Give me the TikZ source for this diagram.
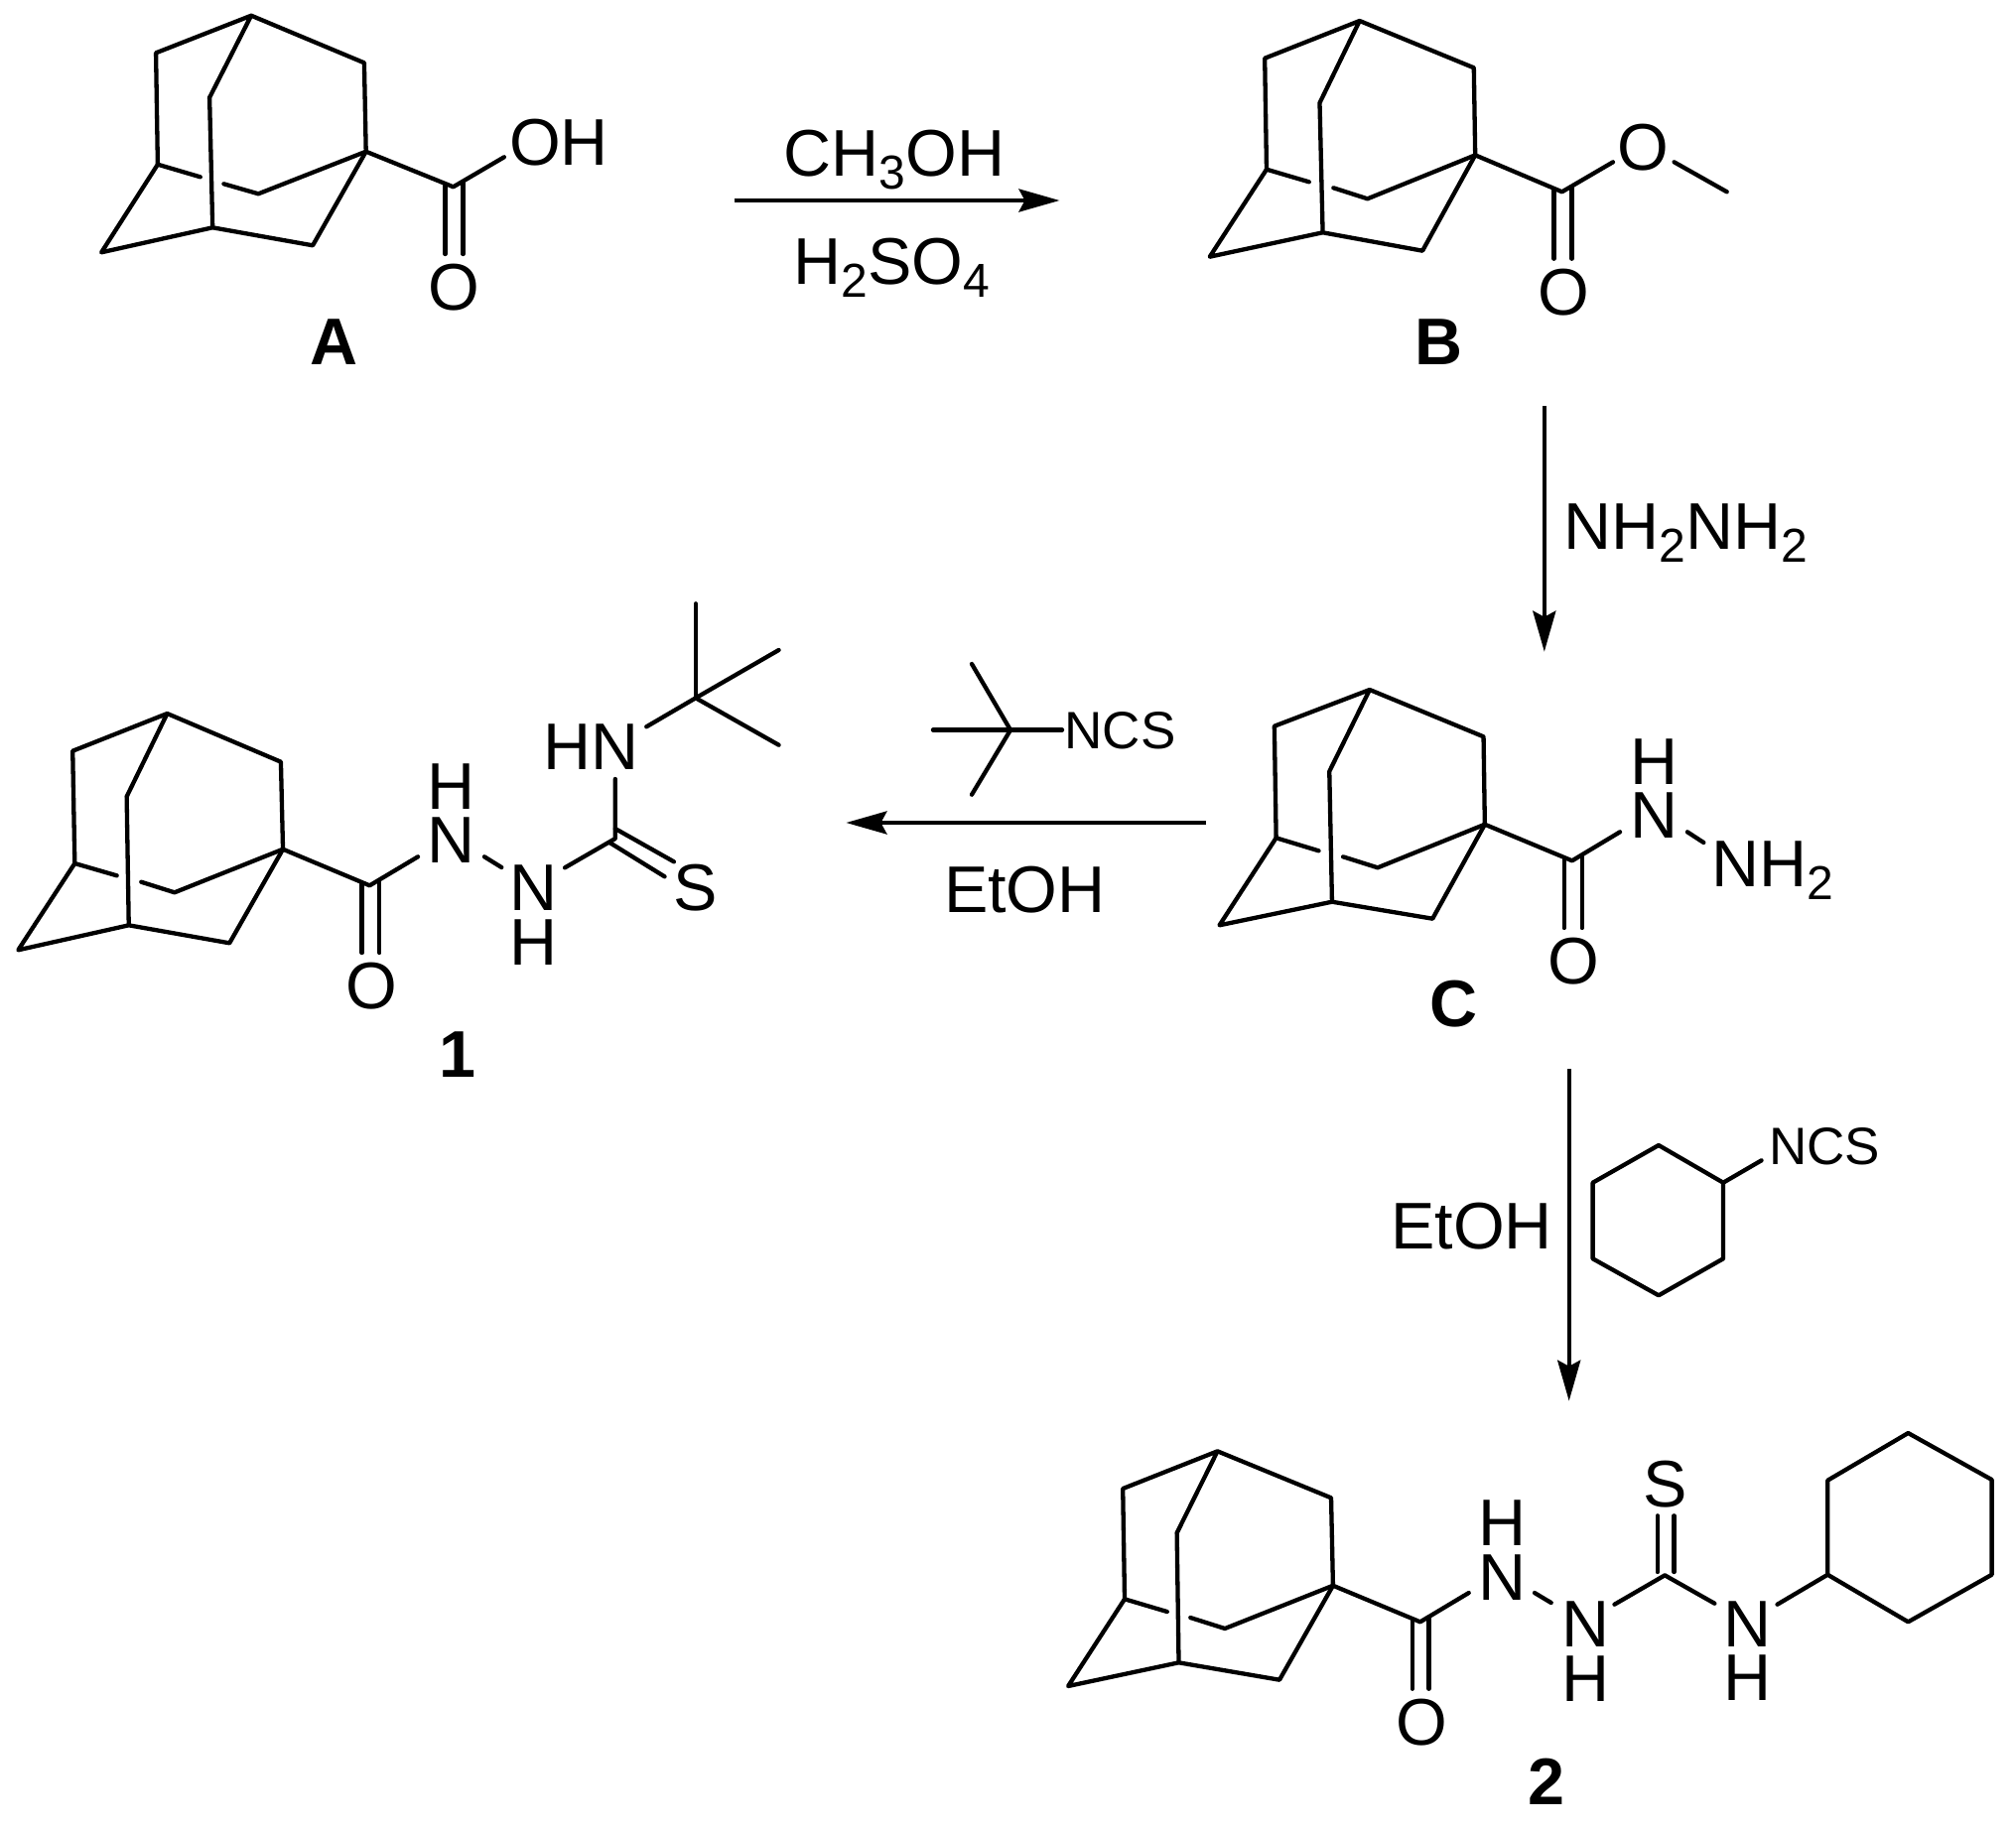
\documentclass[tikz,border=0pt]{standalone}
\usepackage{fontspec}
\setmainfont{Liberation Sans}
\usetikzlibrary{arrows.meta}
\newcommand{\subsc}[1]{\raisebox{-13pt}{\fontsize{48}{50}\selectfont #1}}
\newcommand{\adamantane}[1]{%
  \draw[bond] (#1T)--(#1UL)--(#1L)--(#1BL)--(#1Bc)--(#1BR)--(#1Q)--(#1UR)--(#1T)--(#1I)--(#1Bc);
  \draw[bond] (#1L)--(#1ga);
  \draw[bond] (#1gb)--(#1M)--(#1Q);
}
\tikzset{
  bond/.style={line width=4.3pt,line cap=round,line join=round,black},
  rxn/.style={line width=4.3pt,black,-{Stealth[length=41pt,width=23pt,inset=6pt]}},
  atom/.style={inner sep=0pt,outer sep=0pt,text height=47.5pt,text depth=0pt,font=\fontsize{66.5}{70}\selectfont},
  smallatom/.style={inner sep=0pt,outer sep=0pt,text height=38pt,text depth=0pt,font=\fontsize{53}{58}\selectfont},
  cmpd/.style={inner sep=0pt,outer sep=0pt,text height=47.5pt,text depth=0pt,font=\fontsize{66.5}{70}\selectfont\bfseries},
  squeeze/.style={shift={(#1,0)},xscale=.9949,shift={(-#1,0)}}
}
\begin{document}
\begin{tikzpicture}[x=1pt,y=-1pt]
\useasboundingbox (0,0) rectangle (2031,1842);
\fill[white] (0,0) rectangle (2031,1842);

%% Compound A
\begin{scope}[squeeze=0]
\path (254.4,15.7) coordinate (aT) (157.9,53.3) coordinate (aUL) (368.8,63.3) coordinate (aUR)
  (212.2,98.3) coordinate (aI) (159.7,165.7) coordinate (aL) (370.6,152.7) coordinate (aQ)
  (202.8,178.3) coordinate (aga) (226.6,185.3) coordinate (agb) (261.6,195.3) coordinate (aM)
  (215.3,229.3) coordinate (aBc) (316.7,247.3) coordinate (aBR) (102.7,254.3) coordinate (aBL)
  (459,188.3) coordinate (aCO) (510.5,158.3) coordinate (aOe)
  (450.9,186) coordinate (ada) (450.9,256) coordinate (adb)
  (468.8,184) coordinate (adc) (468.8,256) coordinate (add);
\adamantane{a}
\draw[bond] (aQ)--(aCO)--(aOe);
\draw[bond] (ada)--(adb);
\draw[bond] (adc)--(add);
\node[atom] (aOH) at (566,142.5) {OH};
\node[atom] (aO) at (460,289) {O};
\node[cmpd] (lA) at (338,343.5) {A};
\end{scope}

%% Compound B
\begin{scope}[squeeze=1180]
\path (1370.7,21) coordinate (bT) (1274.7,58.7) coordinate (bUL) (1486.4,68.3) coordinate (bUR)
  (1330.3,103.7) coordinate (bI) (1276.5,170.7) coordinate (bL) (1487.8,156.3) coordinate (bQ)
  (1319.5,183.3) coordinate (bga) (1344.2,189.3) coordinate (bgb) (1378.7,200.3) coordinate (bM)
  (1333.4,234.3) coordinate (bBc) (1434.4,252.7) coordinate (bBR) (1219,258.7) coordinate (bBL)
  (1575.7,193.3) coordinate (bCO) (1627.3,163.3) coordinate (bOe)
  (1689.2,163.3) coordinate (bOs) (1742.6,193.3) coordinate (bMe)
  (1567.6,191) coordinate (bda) (1567.6,260.7) coordinate (bdb)
  (1585.6,189) coordinate (bdc) (1585.6,260.7) coordinate (bdd);
\adamantane{b}
\draw[bond] (bQ)--(bCO)--(bOe);
\draw[bond] (bOs)--(bMe);
\draw[bond] (bda)--(bdb);
\draw[bond] (bdc)--(bdd);
\node[atom] (bOa) at (1657.8,147.7) {O};
\node[atom] (bOb) at (1577,293.3) {O};
\node[cmpd] (lB) at (1451,343.5) {B};
\end{scope}

%% Compound C
\begin{scope}[squeeze=1200]
\path (1380.8,695) coordinate (cT) (1284.3,731.7) coordinate (cUL) (1496.1,742.3) coordinate (cUR)
  (1340,777.3) coordinate (cI) (1286.1,844.3) coordinate (cL) (1497.4,830.7) coordinate (cQ)
  (1329.2,857.3) coordinate (cga) (1353.9,863.3) coordinate (cgb) (1388.9,874.3) coordinate (cM)
  (1342.7,908.7) coordinate (cBc) (1444.5,925.7) coordinate (cBR) (1228.7,932.3) coordinate (cBL)
  (1585.8,867.3) coordinate (cCO) (1634.3,838.3) coordinate (cNe)
  (1702.5,838.3) coordinate (cNa) (1719,849) coordinate (cNb)
  (1577.7,865) coordinate (cda) (1577.7,935) coordinate (cdb)
  (1595.7,863) coordinate (cdc) (1595.7,935) coordinate (cdd);
\adamantane{c}
\draw[bond] (cQ)--(cCO)--(cNe);
\draw[bond] (cNa)--(cNb);
\draw[bond] (cda)--(cdb);
\draw[bond] (cdc)--(cdd);
\node[atom] (cH) at (1668.8,766.7) {H};
\node[atom] (cN) at (1668.8,821) {N};
\node[atom,anchor=west] (cNH) at (1727.5,869.5) {NH\subsc{2}};
\node[atom] (cO) at (1587,967.7) {O};
\node[cmpd] (lC) at (1465.6,1010.7) {C};
\end{scope}

%% Compound 1
\begin{scope}[squeeze=0]
\path (169.3,719) coordinate (dT) (73.6,756.7) coordinate (dUL) (284.4,767.7) coordinate (dUR)
  (128.3,802.7) coordinate (dI) (75.7,870) coordinate (dL) (286.5,855.7) coordinate (dQ)
  (118.3,882.3) coordinate (dga) (143,888.7) coordinate (dgb) (176.7,899.3) coordinate (dM)
  (130.4,932.3) coordinate (dBc) (232.4,950.3) coordinate (dBR) (18.4,957.3) coordinate (dBL)
  (374.3,892.3) coordinate (dCO) (423.2,863.3) coordinate (dNe)
  (490.5,863.3) coordinate (dNa) (507.9,874) coordinate (dNb)
  (572,874.3) coordinate (dNc) (623,845) coordinate (dCS) (623,785) coordinate (dNd)
  (654.6,732.3) coordinate (dNf) (704.5,703.3) coordinate (dCq)
  (704.5,608.3) coordinate (dMa) (788.6,655) coordinate (dMb) (788.6,750.7) coordinate (dMc)
  (623,835) coordinate (dsa) (682.4,868.3) coordinate (dsb)
  (617.8,849.3) coordinate (dsc) (673,883.3) coordinate (dsd)
  (366.5,890) coordinate (dda) (366.5,960) coordinate (ddb)
  (384.3,888) coordinate (ddc) (384.3,960) coordinate (ddd);
\adamantane{d}
\draw[bond] (dQ)--(dCO)--(dNe);
\draw[bond] (dNa)--(dNb);
\draw[bond] (dNc)--(dCS)--(dNd);
\draw[bond] (dNf)--(dCq);
\draw[bond] (dCq)--(dMa);
\draw[bond] (dCq)--(dMb);
\draw[bond] (dCq)--(dMc);
\draw[bond] (dsa)--(dsb);
\draw[bond] (dsc)--(dsd);
\draw[bond] (dda)--(ddb);
\draw[bond] (ddc)--(ddd);
\node[atom] (dH) at (456.4,791.7) {H};
\node[atom] (dN) at (456.4,845.7) {N};
\node[atom] (dNN) at (540,893.3) {N};
\node[atom] (dHH) at (540,948.3) {H};
\node[atom] (dHN) at (599,751.7) {HN};
\node[atom] (dS) at (704.5,893.3) {S};
\node[atom] (dO) at (376,992.7) {O};
\node[cmpd] (l1) at (463,1062) {1};
\end{scope}

%% Compound 2
\begin{scope}[squeeze=1060]
\path (1227.4,1462.3) coordinate (eT) (1131.6,1500) coordinate (eUL) (1342.5,1509.3) coordinate (eUR)
  (1186.3,1544.7) coordinate (eI) (1133.4,1611.3) coordinate (eL) (1344.4,1597.7) coordinate (eQ)
  (1176.4,1624) coordinate (ega) (1200,1630) coordinate (egb) (1234.9,1641) coordinate (eM)
  (1188.2,1675.3) coordinate (eBc) (1290.2,1692.7) coordinate (eBR) (1076.2,1699) coordinate (eBL)
  (1432.7,1634.3) coordinate (eCO) (1481.9,1605) coordinate (eNe)
  (1548.5,1605) coordinate (eNa) (1565.3,1615) coordinate (eNb)
  (1629.4,1616.7) coordinate (eNc) (1680.4,1587.3) coordinate (eCS) (1730.8,1615.7) coordinate (eNd)
  (1794.3,1616.7) coordinate (eNf) (1845.3,1586.7) coordinate (eh1)
  (1845.3,1491.7) coordinate (eh2) (1926.8,1444) coordinate (eh3) (2011.5,1491) coordinate (eh4)
  (2011.5,1586.7) coordinate (eh5) (1926.8,1634.3) coordinate (eh6)
  (1673,1527.3) coordinate (esa) (1673,1584) coordinate (esb)
  (1689.8,1527.3) coordinate (esc) (1689.8,1584) coordinate (esd)
  (1424.7,1632) coordinate (eda) (1424.7,1701.7) coordinate (edb)
  (1441.5,1630) coordinate (edc) (1441.5,1701.7) coordinate (edd);
\adamantane{e}
\draw[bond] (eQ)--(eCO)--(eNe);
\draw[bond] (eNa)--(eNb);
\draw[bond] (eNc)--(eCS)--(eNd);
\draw[bond] (eNf)--(eh1);
\draw[bond] (eh1)--(eh2)--(eh3)--(eh4)--(eh5)--(eh6)--cycle;
\draw[bond] (esa)--(esb);
\draw[bond] (esc)--(esd);
\draw[bond] (eda)--(edb);
\draw[bond] (edc)--(edd);
\node[atom] (eH) at (1515.5,1533.3) {H};
\node[atom] (eN) at (1515.5,1589) {N};
\node[atom] (eNN) at (1600,1636) {N};
\node[atom] (eHH) at (1600,1690.7) {H};
\node[atom] (eNNN) at (1764.5,1636) {N};
\node[atom] (eHHH) at (1764.5,1690) {H};
\node[atom] (eS) at (1680.4,1495) {S};
\node[atom] (eO) at (1434.5,1735) {O};
\node[cmpd] (l2) at (1561,1795) {2};
\end{scope}

%% Reaction arrows
\path (739.7,202) coordinate (r1a) (1067.5,202) coordinate (r1b)
  (1555.8,409) coordinate (r2a) (1555.8,656.7) coordinate (r2b)
  (1215,829) coordinate (r3a) (852.4,829) coordinate (r3b)
  (1580.7,1077) coordinate (r4a) (1580.7,1411.7) coordinate (r4b);
\draw[rxn] (r1a)--(r1b);
\draw[rxn] (r2a)--(r2b);
\draw[rxn] (r3a)--(r3b);
\draw[rxn] (r4a)--(r4b);
\node[atom] (t1) at (901,153.4) {CH\subsc{3}OH};
\node[atom] (t2) at (898.5,263) {H\subsc{2}SO\subsc{4}};
\node[atom] (t3) at (1698.6,530) {NH\subsc{2}NH\subsc{2}};
\node[atom] (t4) at (1032.4,896) {EtOH};
\node[atom] (t5) at (1482.5,1235) {EtOH};

%% t-butyl isothiocyanate reagent
\path (1018,735.6) coordinate (fCq) (979,669) coordinate (fa) (979,800.7) coordinate (fb)
  (940,735.6) coordinate (fc) (1070,735.6) coordinate (fd);
\draw[bond] (fCq)--(fa);
\draw[bond] (fCq)--(fb);
\draw[bond] (fc)--(fd);
\node[smallatom] (fNCS) at (1128.5,735.6) {NCS};

%% cyclohexyl isothiocyanate reagent
\begin{scope}[squeeze=1380]
\path (1672.5,1154) coordinate (g1) (1737.9,1191.7) coordinate (g2) (1737.9,1268.3) coordinate (g3)
  (1672.5,1305.3) coordinate (g4) (1605.8,1268.3) coordinate (g5) (1605.8,1191.7) coordinate (g6)
  (1776.6,1169.3) coordinate (g7);
\draw[bond] (g1)--(g2)--(g3)--(g4)--(g5)--(g6)--cycle;
\draw[bond] (g2)--(g7);
\node[smallatom] (gNCS) at (1840.4,1154) {NCS};
\end{scope}
\end{tikzpicture}
\end{document}
